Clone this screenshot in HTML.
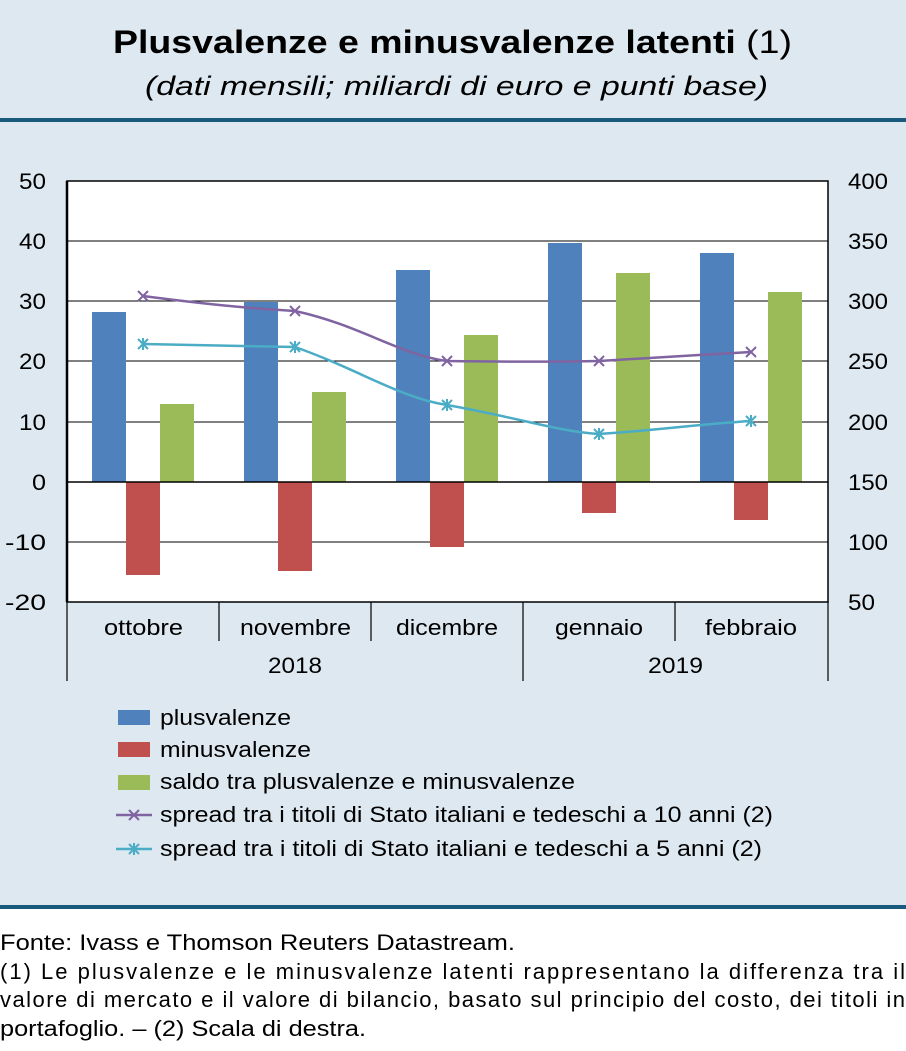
<!DOCTYPE html>
<html><head><meta charset="utf-8"><style>
html,body{margin:0;padding:0;}
body{width:906px;height:1051px;position:relative;background:#fff;font-family:"Liberation Sans",Arial,sans-serif;overflow:hidden;}
</style></head><body>
<svg width="906" height="1051" style="position:absolute;left:0;top:0" font-family="Liberation Sans, Arial, sans-serif">
<rect x="0" y="0" width="906" height="907" fill="#dde8f0"/>
<rect x="0" y="118" width="906" height="4" fill="#175a7e"/>
<rect x="0" y="905" width="906" height="4" fill="#175a7e"/>
<text x="113" y="53" font-size="32" font-weight="bold" textLength="679" lengthAdjust="spacingAndGlyphs">Plusvalenze e minusvalenze latenti <tspan font-weight="normal">(1)</tspan></text>
<text x="145" y="95" font-size="27" font-style="italic" textLength="623" lengthAdjust="spacingAndGlyphs">(dati mensili; miliardi di euro e punti base)</text>
<rect x="67" y="181" width="761" height="421" fill="#fff"/>
<g stroke="#000" stroke-width="1">
<line x1="67" y1="241" x2="828" y2="241"/>
<line x1="67" y1="301" x2="828" y2="301"/>
<line x1="67" y1="361" x2="828" y2="361"/>
<line x1="67" y1="422" x2="828" y2="422"/>
<line x1="67" y1="542" x2="828" y2="542"/>
</g>
<g>
<rect x="92" y="312" width="34" height="170" fill="#4f81bd"/>
<rect x="244" y="302" width="34" height="180" fill="#4f81bd"/>
<rect x="396" y="270" width="34" height="212" fill="#4f81bd"/>
<rect x="548" y="243" width="34" height="239" fill="#4f81bd"/>
<rect x="700" y="253" width="34" height="229" fill="#4f81bd"/>
<rect x="126" y="482" width="34" height="93" fill="#c0504d"/>
<rect x="278" y="482" width="34" height="89" fill="#c0504d"/>
<rect x="430" y="482" width="34" height="65" fill="#c0504d"/>
<rect x="582" y="482" width="34" height="31" fill="#c0504d"/>
<rect x="734" y="482" width="34" height="38" fill="#c0504d"/>
<rect x="160" y="404" width="34" height="78" fill="#9bbb59"/>
<rect x="312" y="392" width="34" height="90" fill="#9bbb59"/>
<rect x="464" y="335" width="34" height="147" fill="#9bbb59"/>
<rect x="616" y="273" width="34" height="209" fill="#9bbb59"/>
<rect x="768" y="292" width="34" height="190" fill="#9bbb59"/>
</g>
<line x1="67" y1="482" x2="828" y2="482" stroke="#000" stroke-width="1.5"/>
<path d="M143,296 C220,306 250,308 295,311 C360,325 400,355 447,361 C520,362 560,362 599,361 C660,357 700,355 751,352" fill="none" stroke="#8064a2" stroke-width="2.5"/>
<path d="M143,344 C220,346 260,346 295,347 C360,370 400,398 447,405 C520,418 560,432 599,434 C660,430 700,424 751,421" fill="none" stroke="#4bacc6" stroke-width="2.5"/>
<g stroke="#8064a2" stroke-width="2">
<path d="M138,291l10,10M148,291l-10,10"/><path d="M290,306l10,10M300,306l-10,10"/><path d="M442,356l10,10M452,356l-10,10"/><path d="M594,356l10,10M604,356l-10,10"/><path d="M746,347l10,10M756,347l-10,10"/>
</g>
<g stroke="#4bacc6" stroke-width="2">
<path d="M138,339l10,10M148,339l-10,10M143,338v12"/><path d="M290,342l10,10M300,342l-10,10M295,341v12"/><path d="M442,400l10,10M452,400l-10,10M447,399v12"/><path d="M594,429l10,10M604,429l-10,10M599,428v12"/><path d="M746,416l10,10M756,416l-10,10M751,415v12"/>
</g>
<rect x="67" y="181" width="761" height="421" fill="none" stroke="#000" stroke-width="1.5"/>
<line x1="67" y1="181" x2="67" y2="602" stroke="#000" stroke-width="2.5"/>
<g stroke="#000" stroke-width="1.2">
<line x1="219" y1="602" x2="219" y2="641"/><line x1="371" y1="602" x2="371" y2="641"/><line x1="675" y1="602" x2="675" y2="641"/>
<line x1="67" y1="602" x2="67" y2="681"/><line x1="523" y1="602" x2="523" y2="681"/><line x1="828" y1="602" x2="828" y2="681"/>
</g>
<g font-size="22">
<text x="19" y="189" textLength="27" lengthAdjust="spacingAndGlyphs">50</text>
<text x="19" y="249" textLength="27" lengthAdjust="spacingAndGlyphs">40</text>
<text x="19" y="309" textLength="27" lengthAdjust="spacingAndGlyphs">30</text>
<text x="19" y="369" textLength="27" lengthAdjust="spacingAndGlyphs">20</text>
<text x="19" y="430" textLength="27" lengthAdjust="spacingAndGlyphs">10</text>
<text x="32" y="490" textLength="14" lengthAdjust="spacingAndGlyphs">0</text>
<text x="5" y="550" textLength="41" lengthAdjust="spacingAndGlyphs">-10</text>
<text x="5" y="610" textLength="41" lengthAdjust="spacingAndGlyphs">-20</text>
</g>
<g font-size="22">
<text x="848" y="189" textLength="40" lengthAdjust="spacingAndGlyphs">400</text>
<text x="848" y="249" textLength="40" lengthAdjust="spacingAndGlyphs">350</text>
<text x="848" y="309" textLength="40" lengthAdjust="spacingAndGlyphs">300</text>
<text x="848" y="369" textLength="40" lengthAdjust="spacingAndGlyphs">250</text>
<text x="848" y="430" textLength="40" lengthAdjust="spacingAndGlyphs">200</text>
<text x="848" y="490" textLength="40" lengthAdjust="spacingAndGlyphs">150</text>
<text x="848" y="550" textLength="40" lengthAdjust="spacingAndGlyphs">100</text>
<text x="848" y="610" textLength="27" lengthAdjust="spacingAndGlyphs">50</text>
</g>
<g font-size="22">
<text x="104" y="635" textLength="79" lengthAdjust="spacingAndGlyphs">ottobre</text>
<text x="240" y="635" textLength="111" lengthAdjust="spacingAndGlyphs">novembre</text>
<text x="396" y="635" textLength="102" lengthAdjust="spacingAndGlyphs">dicembre</text>
<text x="555" y="635" textLength="88" lengthAdjust="spacingAndGlyphs">gennaio</text>
<text x="705" y="635" textLength="92" lengthAdjust="spacingAndGlyphs">febbraio</text>
<text x="268" y="673" textLength="54" lengthAdjust="spacingAndGlyphs">2018</text>
<text x="648" y="673" textLength="55" lengthAdjust="spacingAndGlyphs">2019</text>
</g>
<rect x="118" y="710" width="32" height="15" fill="#4f81bd"/>
<rect x="118" y="742" width="32" height="15" fill="#c0504d"/>
<rect x="118" y="775" width="32" height="15" fill="#9bbb59"/>
<line x1="116" y1="815" x2="152" y2="815" stroke="#8064a2" stroke-width="2.5"/>
<path d="M129,810l10,10M139,810l-10,10" stroke="#8064a2" stroke-width="2"/>
<line x1="116" y1="849" x2="152" y2="849" stroke="#4bacc6" stroke-width="2.5"/>
<path d="M129,844l10,10M139,844l-10,10M134,843v12" stroke="#4bacc6" stroke-width="2"/>
<g font-size="22">
<text x="160" y="725" textLength="131" lengthAdjust="spacingAndGlyphs">plusvalenze</text>
<text x="160" y="757" textLength="151" lengthAdjust="spacingAndGlyphs">minusvalenze</text>
<text x="160" y="789" textLength="415" lengthAdjust="spacingAndGlyphs">saldo tra plusvalenze e minusvalenze</text>
<text x="160" y="822" textLength="613" lengthAdjust="spacingAndGlyphs">spread tra i titoli di Stato italiani e tedeschi a 10 anni (2)</text>
<text x="160" y="856" textLength="602" lengthAdjust="spacingAndGlyphs">spread tra i titoli di Stato italiani e tedeschi a 5 anni (2)</text>
</g>
<g font-size="22">
<text x="0" y="950" textLength="515" lengthAdjust="spacingAndGlyphs">Fonte: Ivass e Thomson Reuters Datastream.</text>
<text x="0" y="979" textLength="905" lengthAdjust="spacing">(1) Le plusvalenze e le minusvalenze latenti rappresentano la differenza tra il</text>
<text x="0" y="1007" textLength="905" lengthAdjust="spacing">valore di mercato e il valore di bilancio, basato sul principio del costo, dei titoli in</text>
<text x="0" y="1036" textLength="366" lengthAdjust="spacingAndGlyphs">portafoglio. – (2) Scala di destra.</text>
</g>
</svg>
</body></html>
